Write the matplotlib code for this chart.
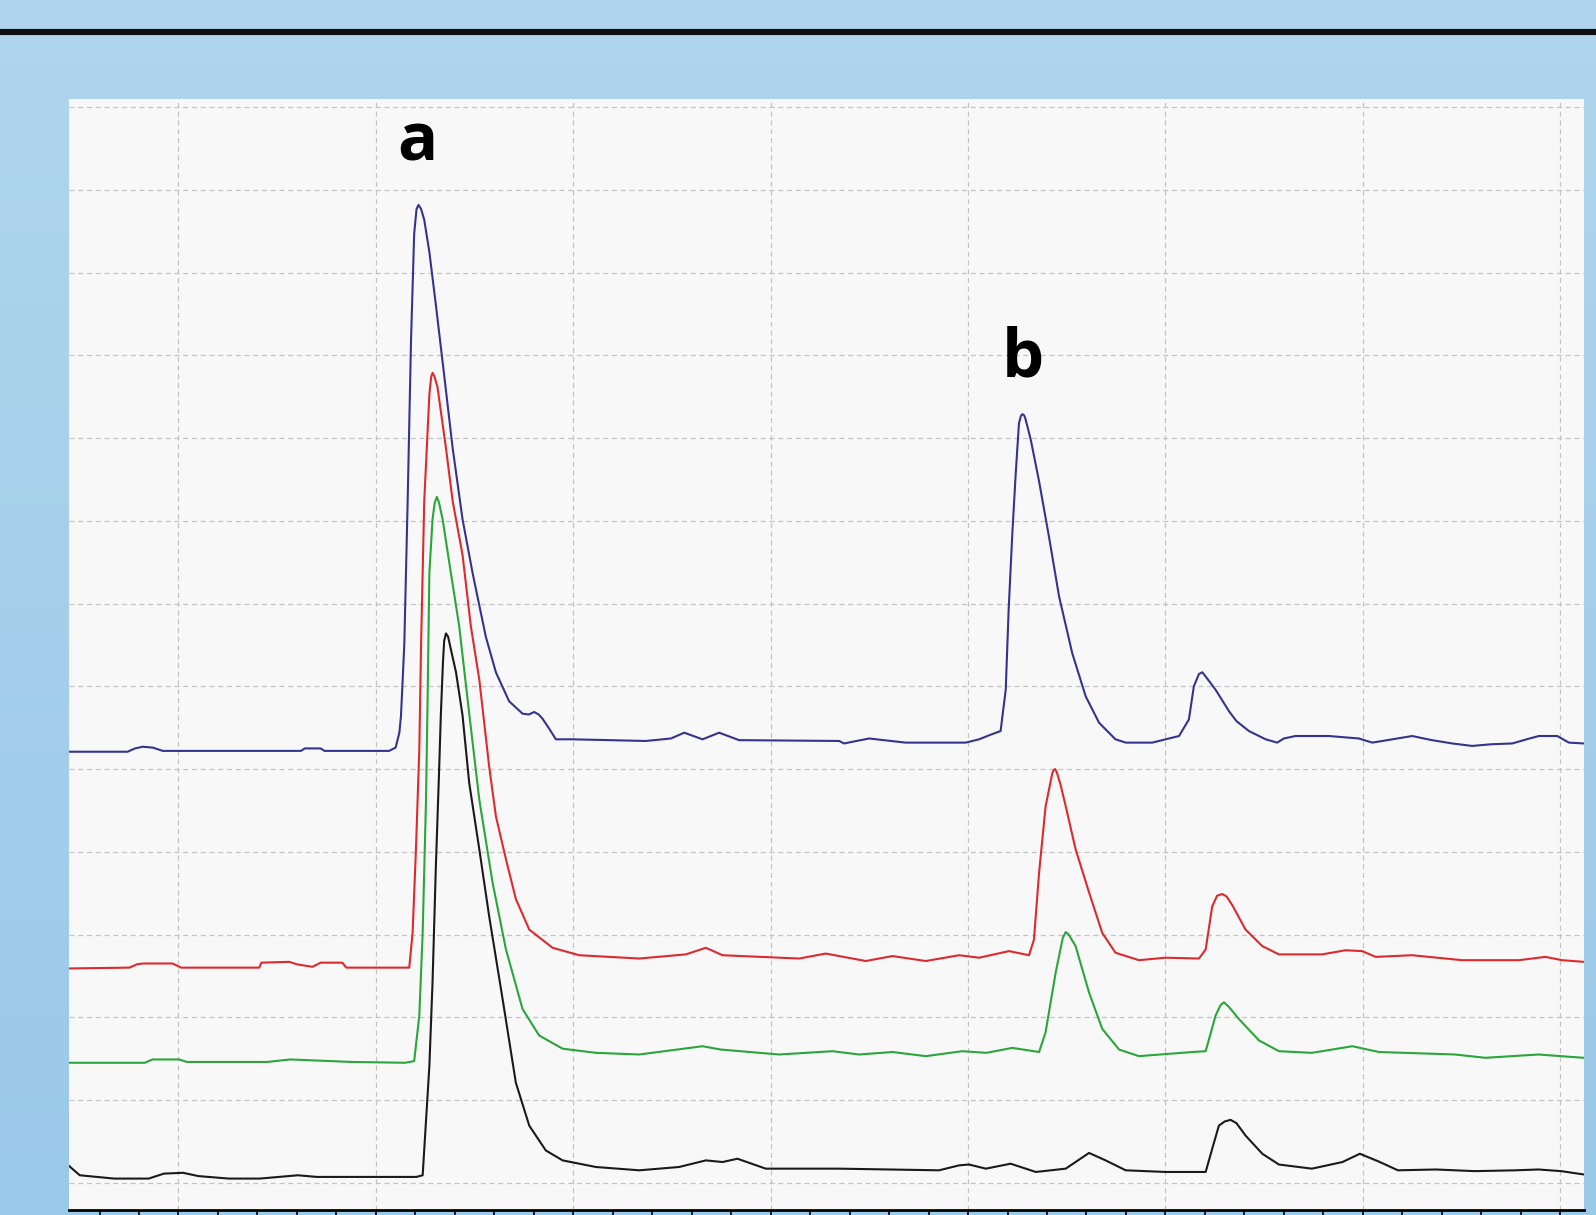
'''
Cromatograma de cuatro muestras (a y b marcan los picos).
'''

import numpy as np
import matplotlib
matplotlib.use('Agg')
import matplotlib.pyplot as plt
from matplotlib.lines import Line2D

# tiempo (unidades de rejilla) y señal de cada traza
blue_x = [0.443, 0.742, 0.780, 0.818, 0.870, 0.920, 1.620, 1.640, 1.720, 1.740, 2.067, 2.100,
          2.119, 2.127, 2.135, 2.144, 2.161, 2.178, 2.194, 2.206, 2.216, 2.229, 2.245, 2.271,
          2.304, 2.347, 2.389, 2.439, 2.490, 2.557, 2.608, 2.675, 2.743, 2.775, 2.802, 2.825,
          2.844, 2.875, 2.912, 2.996, 3.368, 3.495, 3.562, 3.655, 3.739, 3.840, 4.347, 4.372,
          4.499, 4.684, 4.988, 5.056, 5.119, 5.165, 5.191, 5.206, 5.224, 5.241, 5.258, 5.268,
          5.275, 5.283, 5.289, 5.300, 5.318, 5.359, 5.410, 5.461, 5.528, 5.596, 5.664, 5.747,
          5.799, 5.933, 6.069, 6.119, 6.144, 6.170, 6.187, 6.210, 6.254, 6.322, 6.360, 6.423,
          6.508, 6.566, 6.600, 6.659, 6.828, 6.980, 7.048, 7.150, 7.250, 7.350, 7.453, 7.554,
          7.650, 7.757, 7.830, 7.892, 7.985, 8.044, 8.119]
blue_y = [5.21, 5.21, 5.25, 5.27, 5.26, 5.22, 5.22, 5.25, 5.25, 5.22, 5.22, 5.26,
          5.44, 5.64, 6.04, 6.51, 8.24, 10.18, 11.47, 11.77, 11.82, 11.77, 11.64, 11.25,
          10.61, 9.74, 8.88, 8.02, 7.37, 6.60, 6.17, 5.82, 5.67, 5.66, 5.69, 5.66,
          5.61, 5.50, 5.36, 5.36, 5.34, 5.37, 5.44, 5.36, 5.44, 5.35, 5.34, 5.31,
          5.37, 5.32, 5.32, 5.36, 5.42, 5.46, 5.96, 6.94, 7.83, 8.55, 9.18, 9.27,
          9.29, 9.28, 9.25, 9.15, 8.98, 8.49, 7.81, 7.09, 6.40, 5.88, 5.56, 5.36,
          5.32, 5.32, 5.40, 5.60, 6.00, 6.15, 6.17, 6.10, 5.96, 5.70, 5.58, 5.46,
          5.36, 5.32, 5.37, 5.40, 5.40, 5.37, 5.32, 5.36, 5.40, 5.35, 5.31, 5.28,
          5.30, 5.31, 5.36, 5.40, 5.40, 5.32, 5.31]

red_x = [0.443, 0.751, 0.790, 0.819, 0.970, 1.013, 1.409, 1.420, 1.561, 1.600, 1.679, 1.720,
         1.830, 1.850, 2.169, 2.186, 2.203, 2.220, 2.229, 2.245, 2.271, 2.280, 2.287, 2.296,
         2.312, 2.355, 2.389, 2.439, 2.481, 2.524, 2.574, 2.608, 2.659, 2.709, 2.777, 2.895,
         3.030, 3.334, 3.570, 3.672, 3.756, 4.144, 4.279, 4.482, 4.617, 4.786, 4.955, 5.056,
         5.208, 5.309, 5.334, 5.360, 5.393, 5.427, 5.434, 5.441, 5.450, 5.470, 5.495, 5.545,
         5.613, 5.680, 5.747, 5.866, 6.001, 6.170, 6.204, 6.237, 6.262, 6.288, 6.310, 6.340,
         6.406, 6.491, 6.575, 6.794, 6.912, 6.997, 7.065, 7.250, 7.503, 7.790, 7.925, 8.010,
         8.119]
red_y = [2.59, 2.60, 2.64, 2.65, 2.65, 2.60, 2.60, 2.66, 2.67, 2.64, 2.61, 2.66,
         2.66, 2.60, 2.60, 3.02, 4.03, 5.24, 6.51, 8.24, 9.53, 9.74, 9.79, 9.75,
         9.62, 8.88, 8.24, 7.59, 6.73, 6.08, 5.03, 4.43, 3.91, 3.43, 3.06, 2.84,
         2.75, 2.71, 2.76, 2.84, 2.75, 2.71, 2.77, 2.68, 2.74, 2.68, 2.75, 2.72,
         2.80, 2.75, 2.94, 3.75, 4.55, 4.95, 4.99, 5.00, 4.96, 4.80, 4.55, 4.03,
         3.51, 3.02, 2.78, 2.69, 2.72, 2.71, 2.82, 3.34, 3.47, 3.49, 3.46, 3.35,
         3.06, 2.86, 2.76, 2.76, 2.81, 2.80, 2.73, 2.75, 2.69, 2.69, 2.73, 2.69,
         2.67]

green_x = [0.442, 0.829, 0.868, 1.004, 1.042, 1.450, 1.566, 1.876, 2.148, 2.194, 2.220, 2.237,
           2.254, 2.262, 2.271, 2.287, 2.298, 2.309, 2.320, 2.338, 2.380, 2.422, 2.469, 2.524,
           2.591, 2.659, 2.743, 2.827, 2.946, 3.115, 3.334, 3.655, 3.747, 4.043, 4.313, 4.448,
           4.617, 4.786, 4.971, 5.093, 5.224, 5.360, 5.393, 5.444, 5.480, 5.495, 5.510, 5.545,
           5.613, 5.680, 5.765, 5.866, 6.136, 6.204, 6.254, 6.280, 6.297, 6.320, 6.372, 6.474,
           6.575, 6.742, 6.947, 7.082, 7.467, 7.621, 7.890, 8.119]
green_y = [1.45, 1.45, 1.49, 1.49, 1.46, 1.46, 1.49, 1.46, 1.45, 1.47, 2.02, 3.02,
           4.63, 5.84, 7.37, 8.02, 8.22, 8.29, 8.22, 8.02, 7.37, 6.73, 5.75, 4.63,
           3.63, 2.82, 2.10, 1.78, 1.62, 1.57, 1.55, 1.65, 1.61, 1.55, 1.59, 1.55,
           1.58, 1.53, 1.59, 1.57, 1.63, 1.58, 1.82, 2.54, 2.96, 3.03, 3.00, 2.86,
           2.30, 1.86, 1.61, 1.53, 1.58, 1.59, 2.02, 2.15, 2.18, 2.13, 1.98, 1.72,
           1.59, 1.57, 1.65, 1.58, 1.55, 1.51, 1.55, 1.51]

black_x = [0.442, 0.500, 0.674, 0.849, 0.926, 1.023, 1.101, 1.256, 1.411, 1.605, 1.701, 2.205,
           2.237, 2.271, 2.287, 2.304, 2.321, 2.329, 2.340, 2.346, 2.355, 2.366, 2.376, 2.406,
           2.439, 2.473, 2.524, 2.574, 2.642, 2.709, 2.777, 2.861, 2.946, 3.115, 3.334, 3.536,
           3.672, 3.756, 3.832, 3.975, 4.347, 4.853, 4.955, 5.005, 5.090, 5.216, 5.343, 5.495,
           5.613, 5.697, 5.799, 6.001, 6.204, 6.237, 6.271, 6.300, 6.330, 6.360, 6.406, 6.491,
           6.575, 6.742, 6.897, 6.985, 7.077, 7.178, 7.370, 7.567, 7.773, 7.890, 8.005, 8.119]
black_y = [0.21, 0.09, 0.05, 0.05, 0.11, 0.12, 0.08, 0.05, 0.05, 0.09, 0.07, 0.07,
           0.09, 1.41, 2.42, 3.83, 5.03, 5.65, 6.30, 6.55, 6.64, 6.60, 6.49, 6.17,
           5.65, 4.83, 4.03, 3.22, 2.22, 1.21, 0.69, 0.39, 0.27, 0.19, 0.15, 0.19,
           0.27, 0.25, 0.29, 0.17, 0.17, 0.15, 0.21, 0.22, 0.17, 0.23, 0.13, 0.17,
           0.36, 0.27, 0.15, 0.13, 0.13, 0.41, 0.69, 0.74, 0.76, 0.72, 0.57, 0.35,
           0.22, 0.17, 0.25, 0.35, 0.26, 0.15, 0.16, 0.14, 0.15, 0.16, 0.14, 0.10]

peak_labels = ['a', 'b']
peak_x = [2.211, 5.278]
peak_y = [12.57, 9.96]

fig = plt.figure(figsize=(15.96, 12.15), dpi=100)

# fondo azul degradado
bg = fig.add_axes([0, 0, 1, 1], zorder=-10)
grad = np.linspace(0, 1, 256).reshape(-1, 1)
cmap = matplotlib.colors.LinearSegmentedColormap.from_list('bg', ['#b0d5ee', '#9bc9e9'])
bg.imshow(grad, aspect='auto', cmap=cmap, extent=[0, 1, 0, 1], origin='upper')
bg.axis('off')

fig.add_artist(Line2D([0, 1], [0.9734, 0.9734], transform=fig.transFigure,
                      color='#0d0d12', linewidth=4.4))

ax = fig.add_axes([0.0432, 0.0041, 0.9492, 0.9144])
ax.set_facecolor('#f8f8f8')

line_kw = dict(linewidth=1.5, solid_joinstyle='round', solid_capstyle='round')
ax.plot(blue_x, blue_y, color='#34348f', **line_kw)
ax.plot(red_x, red_y, color='#dc2a2e', **line_kw)
ax.plot(green_x, green_y, color='#2aa63a', **line_kw)
ax.plot(black_x, black_y, color='#1a1a1a', **line_kw)

for lab, px, py in zip(peak_labels, peak_x, peak_y):
    ax.text(px, py, lab, fontsize=48, fontweight='bold', family='Open Sans',
            ha='center', va='center', color='black')

ax.set_xlim(0.445, 8.12)
ax.set_ylim(-0.33, 13.1)
ax.set_xticks(np.arange(1, 9))
ax.set_xticks(np.arange(0.6, 8.1, 0.2), minor=True)
ax.set_yticks(np.arange(0, 14))
ax.tick_params(axis='y', left=False, labelleft=False)
ax.tick_params(axis='x', which='both', direction='out', length=14, width=1.2,
               labelbottom=False, color='black')
ax.grid(True, which='major', linestyle=(0, (4, 3)), color='#c4c4c4', linewidth=0.9)

for side in ['left', 'right', 'top']:
    ax.spines[side].set_visible(False)
ax.spines['bottom'].set_linewidth(2)
ax.spines['bottom'].set_color('black')

fig.savefig('out.png', dpi=100)
